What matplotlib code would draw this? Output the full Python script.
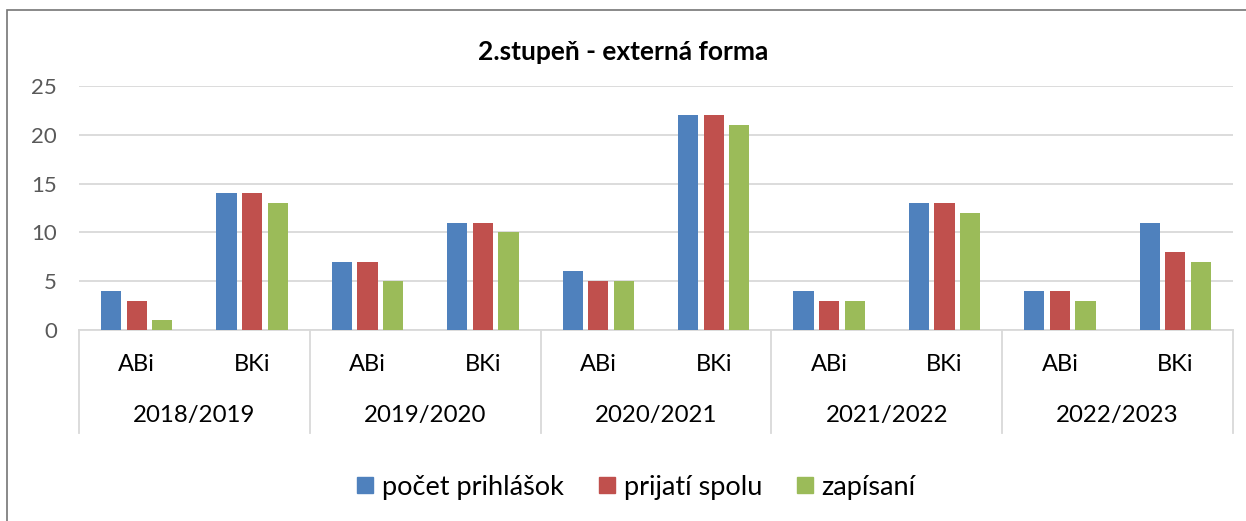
import matplotlib
matplotlib.use("Agg")
import matplotlib.pyplot as plt
import matplotlib.patches as mpatches
from matplotlib.transforms import blended_transform_factory
import numpy as np

years = ["2018/2019", "2019/2020", "2020/2021", "2021/2022", "2022/2023"]
programs = ["ABi", "BKi"]
series_names = ["počet prihlášok", "prijatí spolu", "zapísaní"]
pocet_prihlasok = [4, 14, 7, 11, 6, 22, 4, 13, 4, 11]
prijati_spolu = [3, 14, 7, 11, 5, 22, 3, 13, 4, 8]
zapisani = [1, 13, 5, 10, 5, 21, 3, 12, 3, 7]
colors = ["#4F81BD", "#C0504D", "#9BBB59"]

plt.rcParams['font.family'] = ['Lato', 'DejaVu Sans']

W, H = 1246, 521
fig = plt.figure(figsize=(W / 100, H / 100), dpi=100)

x0, x1 = 79, 1233
y_top, y_bot = 86, 330
ax = fig.add_axes([x0 / W, (H - y_bot) / H, (x1 - x0) / W, (y_bot - y_top) / H])

n = len(years) * len(programs)
x = np.arange(n)
bw = 0.175
step = 0.222
for i, (vals, c, name) in enumerate(zip([pocet_prihlasok, prijati_spolu, zapisani], colors, series_names)):
    ax.bar(x + (i - 1) * step, vals, width=bw, color=c, label=name, zorder=3)

ax.set_xlim(-0.5, n - 0.5)
ax.set_ylim(0, 25)
ax.set_yticks(range(0, 26, 5))
ax.yaxis.grid(True, color="#D9D9D9", linewidth=1.3, zorder=0)
ax.set_axisbelow(True)
for s in ["top", "right", "left"]:
    ax.spines[s].set_visible(False)
ax.spines["bottom"].set_color("#D9D9D9")
ax.spines["bottom"].set_linewidth(1.3)
ax.tick_params(axis="y", length=0, pad=16, labelsize=16, labelcolor="#595959")
ax.set_xticks([])

trans = blended_transform_factory(ax.transData, ax.transAxes)
labels_prog = [p for _ in years for p in programs]
for xi, lab in zip(x, labels_prog):
    ax.text(xi, -0.143, lab, transform=trans, ha="center", va="center", fontsize=17, color="#000000")
for gi, yr in enumerate(years):
    ax.text(gi * 2 + 0.5, -0.352, yr, transform=trans, ha="center", va="center", fontsize=17.3, color="#000000")
for b in np.arange(-0.5, n, 2):
    ax.plot([b, b], [0, -0.422], transform=trans, color="#D9D9D9", linewidth=1.3, clip_on=False)

fig.text(0.5, 1 - 52 / H, "2.stupeň - externá forma", ha="center", va="center",
         fontsize=19, fontweight="bold", color="#000000")

handles = [mpatches.Patch(color=c) for c in colors]
fig.legend(handles, series_names, loc="center", bbox_to_anchor=(636.5 / W, (H - 487) / H), ncol=3,
           frameon=False, fontsize=19.5, handlelength=0.58, handleheight=0.58,
           handletextpad=0.33, columnspacing=1.3)

border = mpatches.Rectangle((7 / W, -0.01), 1.1, 1 - 10 / H + 0.01, transform=fig.transFigure,
                            fill=False, edgecolor="#767676", linewidth=1.2)
fig.patches.append(border)

fig.savefig("out.png", dpi=100)
